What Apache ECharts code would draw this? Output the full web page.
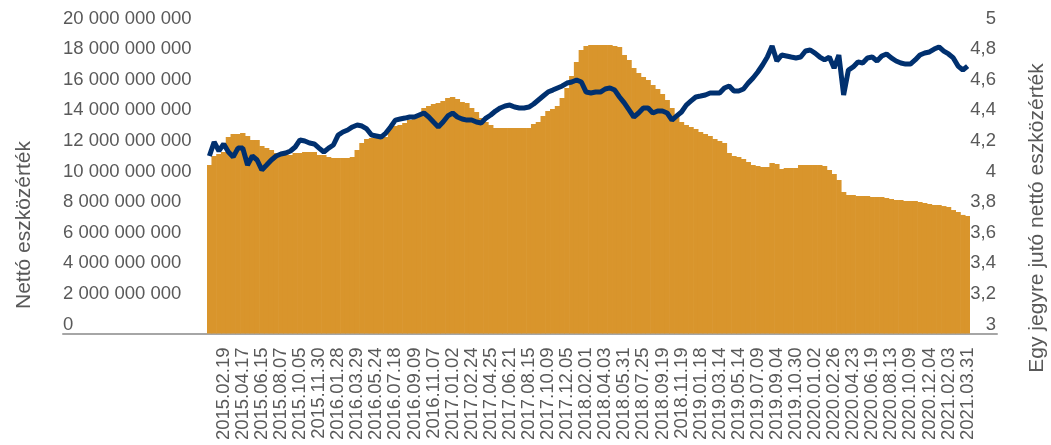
<!DOCTYPE html>
<html>
<head>
<meta charset="utf-8">
<script src="https://cdn.jsdelivr.net/npm/echarts@6/dist/echarts.min.js"></script>
<style>
  html, body { margin: 0; padding: 0; background: #fff; }
  #chart { width: 1051px; height: 445px; }
</style>
</head>
<body>
<div id="chart"></div>
<script>
// tick labels shown on the date axis (every 4th point)
const tickLabels = [
  "2015.02.19", "2015.04.17", "2015.06.15", "2015.08.07", "2015.10.05", "2015.11.30",
  "2016.01.28", "2016.03.29", "2016.05.24", "2016.07.18", "2016.09.09", "2016.11.07",
  "2017.01.02", "2017.02.24", "2017.04.25", "2017.06.21", "2017.08.15", "2017.10.09",
  "2017.12.05", "2018.02.01", "2018.04.03", "2018.05.31", "2018.07.25", "2018.09.19",
  "2018.11.19", "2019.01.18", "2019.03.14", "2019.05.14", "2019.07.09", "2019.09.04",
  "2019.10.30", "2020.01.02", "2020.02.26", "2020.04.23", "2020.06.19", "2020.08.13",
  "2020.10.09", "2020.12.04", "2021.02.03", "2021.03.31",
];
const firstLabelIndex = 3;
const labelStep = 4;

// nettó eszközérték, milliárd Ft
const netAssets = [
  11.01, 11.60, 11.73, 11.86, 12.84, 13.04, 13.04, 13.10, 12.91, 12.65,
  12.65, 12.25, 12.12, 11.99, 11.80, 11.73, 11.73, 11.67, 11.80, 11.80,
  11.86, 11.86, 11.86, 11.67, 11.67, 11.54, 11.47, 11.47, 11.47, 11.47,
  11.54, 11.99, 12.45, 12.71, 12.78, 12.78, 12.78, 12.84, 13.43, 13.56,
  13.63, 13.76, 13.95, 14.15, 14.35, 14.74, 14.87, 15.00, 15.07, 15.20,
  15.39, 15.46, 15.33, 15.13, 15.07, 14.74, 14.48, 14.08, 13.82, 13.63,
  13.43, 13.43, 13.43, 13.43, 13.43, 13.43, 13.43, 13.43, 13.69, 13.82,
  14.22, 14.54, 14.67, 14.87, 15.39, 16.05, 16.83, 17.75, 18.53, 18.79,
  18.86, 18.86, 18.86, 18.86, 18.86, 18.79, 18.73, 18.20, 17.88, 17.35,
  17.03, 16.76, 16.57, 16.24, 15.98, 15.65, 15.26, 14.74, 14.28, 13.82,
  13.63, 13.50, 13.37, 13.17, 13.04, 12.91, 12.71, 12.58, 12.45, 11.80,
  11.60, 11.54, 11.41, 11.21, 11.01, 10.95, 10.88, 10.88, 11.14, 11.08,
  10.75, 10.82, 10.82, 10.82, 11.01, 11.01, 11.01, 11.01, 11.01, 10.95,
  10.69, 10.42, 10.03, 9.25, 9.05, 9.05, 8.99, 8.99, 8.99, 8.92,
  8.92, 8.92, 8.86, 8.79, 8.73, 8.73, 8.66, 8.66, 8.66, 8.59,
  8.53, 8.46, 8.40, 8.40, 8.33, 8.27, 8.07, 7.94, 7.75, 7.68,
];

// egy jegyre jutó nettó eszközérték
const navPerUnit = [
  4.160, 4.252, 4.193, 4.239, 4.186, 4.154, 4.212, 4.212, 4.101, 4.160,
  4.134, 4.069, 4.101, 4.134, 4.160, 4.173, 4.180, 4.193, 4.219, 4.265,
  4.258, 4.245, 4.239, 4.212, 4.186, 4.212, 4.232, 4.297, 4.317, 4.330,
  4.350, 4.363, 4.356, 4.337, 4.297, 4.291, 4.284, 4.310, 4.350, 4.395,
  4.402, 4.408, 4.415, 4.415, 4.428, 4.441, 4.415, 4.382, 4.350, 4.382,
  4.422, 4.441, 4.415, 4.402, 4.395, 4.395, 4.382, 4.376, 4.408, 4.428,
  4.454, 4.474, 4.487, 4.493, 4.480, 4.474, 4.474, 4.480, 4.500, 4.526,
  4.552, 4.578, 4.591, 4.605, 4.618, 4.637, 4.644, 4.657, 4.644, 4.578,
  4.572, 4.578, 4.578, 4.598, 4.605, 4.591, 4.546, 4.507, 4.461, 4.415,
  4.441, 4.474, 4.474, 4.441, 4.454, 4.454, 4.441, 4.395, 4.422, 4.448,
  4.493, 4.520, 4.546, 4.552, 4.559, 4.572, 4.572, 4.572, 4.605, 4.618,
  4.585, 4.585, 4.598, 4.637, 4.670, 4.709, 4.755, 4.807, 4.879, 4.781,
  4.820, 4.814, 4.807, 4.801, 4.807, 4.846, 4.853, 4.833, 4.807, 4.788,
  4.807, 4.735, 4.820, 4.559, 4.722, 4.742, 4.775, 4.768, 4.801, 4.807,
  4.781, 4.814, 4.827, 4.801, 4.781, 4.768, 4.761, 4.761, 4.788, 4.820,
  4.833, 4.840, 4.859, 4.873, 4.846, 4.827, 4.801, 4.748, 4.722, 4.748,
];

const categories = netAssets.map((_, k) =>
  (k - firstLabelIndex) % labelStep === 0 && k >= firstLabelIndex
    ? tickLabels[(k - firstLabelIndex) / labelStep] || ""
    : ""
);

const textColor = "#595959";
const font = "Liberation Sans, Arial, sans-serif";

function formatBig(v) {
  return String(Math.round(v * 1e9)).replace(/\B(?=(\d{3})+(?!\d))/g, " ");
}

const chart = echarts.init(document.getElementById("chart"), null, { renderer: "canvas" });
chart.setOption({
  animation: false,
  backgroundColor: "#fff",
  textStyle: { fontFamily: font },
  grid: [
    { left: 207, right: 81, top: 27.5, height: 306 },
    { left: 63, right: 54, top: 27.5, height: 306 },
  ],
  xAxis: [
    {
      type: "category",
      data: categories,
      boundaryGap: true,
      axisLine: { show: false },
      axisTick: { show: false },
      axisLabel: {
        interval: 0,
        rotate: 90,
        margin: 14,
        color: textColor,
        fontSize: 18.5,
        fontFamily: font,
      },
    },
    {
      type: "category",
      gridIndex: 1,
      data: [""],
      axisLine: { lineStyle: { color: "#A6A6A6", width: 2 } },
      axisTick: { show: false },
      axisLabel: { show: false },
    },
  ],
  yAxis: [
    {
      type: "value",
      min: 0,
      max: 20,
      interval: 2,
      axisLine: { show: false },
      axisTick: { show: false },
      splitLine: { show: false },
      axisLabel: {
        align: "left",
        margin: 144,
        verticalAlign: "bottom",
        lineHeight: 18,
        color: textColor,
        fontSize: 18.5,
        fontFamily: font,
        formatter: (v) => (v === 0 ? "0" : formatBig(v)),
      },
    },
    {
      type: "value",
      position: "right",
      min: 3,
      max: 5,
      interval: 0.2,
      axisLine: { show: false },
      axisTick: { show: false },
      splitLine: { show: false },
      axisLabel: {
        align: "right",
        margin: 26,
        verticalAlign: "bottom",
        lineHeight: 18,
        color: textColor,
        fontSize: 18.5,
        fontFamily: font,
        formatter: (v) => String(+v.toFixed(1)).replace(".", ","),
      },
    },
    { type: "value", gridIndex: 1, show: false },
  ],
  graphic: [
    {
      type: "text",
      x: 24,
      y: 225,
      rotation: Math.PI / 2,
      style: {
        text: "Nettó eszközérték",
        fill: textColor,
        font: "21px " + font,
        align: "center",
        verticalAlign: "middle",
      },
    },
    {
      type: "text",
      x: 1037,
      y: 218,
      rotation: Math.PI / 2,
      style: {
        text: "Egy jegyre jutó nettó eszközérték",
        fill: textColor,
        font: "21px " + font,
        align: "center",
        verticalAlign: "middle",
      },
    },
  ],
  series: [
    {
      name: "Nettó eszközérték",
      type: "bar",
      data: netAssets,
      barWidth: 5.4,
      barGap: "-100%",
      itemStyle: { color: "#D9952C" },
      silent: true,
    },
    {
      name: "Egy jegyre jutó nettó eszközérték",
      type: "line",
      yAxisIndex: 1,
      data: navPerUnit,
      symbol: "none",
      lineStyle: { color: "#00306F", width: 5 },
      silent: true,
    },
  ],
});
</script>
</body>
</html>
